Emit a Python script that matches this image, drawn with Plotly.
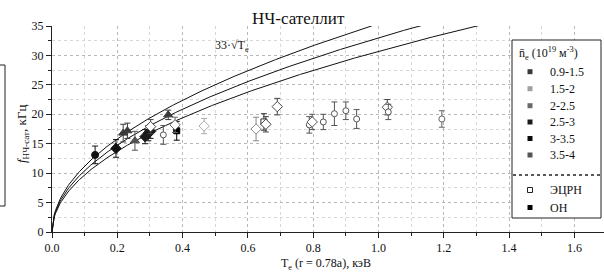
import numpy as np
import plotly.graph_objects as go

# ---- data ----
fit_coefs = [35.4, 33.0, 30.7]          # f = a * sqrt(Te)

oh_x = [0.132, 0.196, 0.218, 0.231, 0.254, 0.285, 0.295, 0.302, 0.356, 0.382]
oh_y = [13.1, 14.2, 16.8, 17.2, 15.5, 16.2, 16.8, 17.1, 19.9, 17.2]
oh_err = [1.5, 1.5, 1.5, 1.3, 1.6, 1.2, 1.3, 1.2, 0.8, 1.6]
oh_sym = ["circle", "diamond", "triangle-up", "triangle-up", "triangle-up",
          "diamond", "diamond", "diamond", "triangle-up", "square"]
oh_col = ["#111111", "#111111", "#3a3a3a", "#3a3a3a", "#505050",
          "#1a1a1a", "#1a1a1a", "#1a1a1a", "#3a3a3a", "#000000"]

ecr_x = [0.302, 0.341, 0.377, 0.466, 0.625, 0.649, 0.655, 0.690, 0.788, 0.797,
         0.831, 0.865, 0.900, 0.933, 1.027, 1.030, 1.194]
ecr_y = [17.9, 16.5, 18.2, 18.0, 17.5, 18.7, 18.3, 21.3, 18.2, 18.7,
         18.7, 20.1, 20.6, 19.2, 21.2, 20.4, 19.2]
ecr_err = [1.2, 1.6, 1.3, 1.3, 2.0, 1.4, 1.3, 1.4, 1.4, 1.3,
           1.3, 2.0, 1.5, 1.6, 1.3, 1.3, 1.4]
ecr_sym = ["diamond", "circle", "diamond", "diamond", "diamond", "square", "diamond",
           "diamond", "circle", "diamond", "circle", "circle", "circle", "circle",
           "diamond", "circle", "circle"]
ecr_col = ["#444444", "#555555", "#666666", "#aaaaaa", "#888888", "#333333", "#444444",
           "#444444", "#555555", "#555555", "#555555", "#555555", "#555555", "#555555",
           "#444444", "#555555", "#666666"]

legend_labels = ["0.9-1.5", "1.5-2", "2-2.5", "2.5-3", "3-3.5", "3.5-4"]
legend_colors = ["#3a3a3a", "#a0a0a0", "#6a6a6a", "#1a1a1a", "#0a0a0a", "#555555"]

x_ticks = [0.0, 0.2, 0.4, 0.6, 0.8, 1.0, 1.2, 1.4, 1.6]
y_ticks = [0, 5, 10, 15, 20, 25, 30, 35]

FONT = "Liberation Serif"
W, H = 604, 275
L, R, T, B = 52, 0, 26, 43
PW, PH = W - L - R, H - T - B
TXT = dict(family=FONT, size=12, color="#111111")


def px(x):
    return (x - L) / PW


def py(y):
    return (H - B - y) / PH


fig = go.Figure()

# fit curves
te = np.linspace(0, 1.4, 400)
for a in fit_coefs:
    fig.add_trace(go.Scatter(x=te, y=a * np.sqrt(te), mode="lines",
                             line=dict(color="#111111", width=1), hoverinfo="skip"))

msize = {"circle": 7, "diamond": 8, "triangle-up": 8, "square": 6}

for x, y, e, s, c in zip(oh_x, oh_y, oh_err, oh_sym, oh_col):
    fig.add_trace(go.Scatter(
        x=[x], y=[y], mode="markers",
        marker=dict(symbol=s, size=msize[s], color=c, line=dict(color=c, width=1)),
        error_y=dict(type="data", array=[e], color=c, thickness=1, width=3)))

osize = {"circle": 6, "diamond": 8, "square": 6}
for x, y, e, s, c in zip(ecr_x, ecr_y, ecr_err, ecr_sym, ecr_col):
    fig.add_trace(go.Scatter(
        x=[x], y=[y], mode="markers",
        marker=dict(symbol=s, size=osize[s], color="white", line=dict(color=c, width=1)),
        error_y=dict(type="data", array=[e], color=c, thickness=1, width=3)))

shapes = []
annotations = []

# legend box
lx0, lx1, ly0, ly1 = 512, 601, 40, 218
shapes.append(dict(type="rect", xref="paper", yref="paper", x0=px(lx0), x1=px(lx1),
                   y0=py(ly1), y1=py(ly0), fillcolor="white",
                   line=dict(color="#222222", width=1), layer="above"))
annotations.append(dict(xref="paper", yref="paper", x=px(517), y=py(53), xanchor="left",
                        yanchor="middle", showarrow=False,
                        text="n\u0304<sub>e</sub> (10<sup>19</sup> м<sup>-3</sup>)",
                        font=TXT))
ys_leg = [71.7, 88.7, 105.7, 122, 138.5, 155]
for yy, lab, col in zip(ys_leg, legend_labels, legend_colors):
    shapes.append(dict(type="rect", xref="paper", yref="paper",
                       x0=px(527.5), x1=px(532.5), y0=py(yy + 2.5), y1=py(yy - 2.5),
                       fillcolor=col, line=dict(width=0), layer="above"))
    annotations.append(dict(xref="paper", yref="paper", x=px(548), y=py(yy),
                            xanchor="left", yanchor="middle", showarrow=False, text=lab,
                            font=TXT))
shapes.append(dict(type="line", xref="paper", yref="paper", x0=px(513), x1=px(600),
                   y0=py(175), y1=py(175), line=dict(color="#222222", width=1.5, dash="dot"),
                   layer="above"))
shapes.append(dict(type="rect", xref="paper", yref="paper",
                   x0=px(527.5), x1=px(532.5), y0=py(192.5), y1=py(187.5),
                   fillcolor="white", line=dict(color="#222222", width=1), layer="above"))
annotations.append(dict(xref="paper", yref="paper", x=px(548), y=py(190), xanchor="left",
                        yanchor="middle", showarrow=False, text="ЭЦРН", font=TXT))
shapes.append(dict(type="rect", xref="paper", yref="paper",
                   x0=px(527.5), x1=px(532.5), y0=py(210), y1=py(205),
                   fillcolor="#000000", line=dict(width=0), layer="above"))
annotations.append(dict(xref="paper", yref="paper", x=px(548), y=py(207.5), xanchor="left",
                        yanchor="middle", showarrow=False, text="ОН", font=TXT))

# left bracket artefact
shapes.append(dict(type="path", xref="paper", yref="paper",
                   path=f"M {px(0)} {py(65)} L {px(5)} {py(65)} L {px(5)} {py(206)} L {px(0)} {py(206)}",
                   line=dict(color="#222222", width=1)))

# title and labels
annotations.append(dict(xref="paper", yref="paper", x=px(298), y=py(18), xanchor="center",
                        yanchor="middle", showarrow=False, text="НЧ-сателлит",
                        font=dict(family=FONT, size=17, color="#111111")))
annotations.append(dict(xref="paper", yref="paper", x=px(213), y=py(46), xanchor="left",
                        yanchor="middle", showarrow=False,
                        text="33\u00b7\u221aT<sub>e</sub>", font=TXT))
annotations.append(dict(xref="paper", yref="paper", x=px(326), y=py(264), xanchor="center",
                        yanchor="middle", showarrow=False,
                        text="T<sub>e</sub> (r = 0.78a), кэВ", font=TXT))
annotations.append(dict(xref="paper", yref="paper", x=px(22), y=py(134), xanchor="center",
                        yanchor="middle", showarrow=False, textangle=-90,
                        text="<i>f</i><sub>НЧ-сат</sub>, кГц",
                        font=dict(family=FONT, size=13, color="#111111")))

axis_common = dict(ticks="outside", ticklen=5, tickcolor="#222222", showline=True,
                   linecolor="#222222", linewidth=1, showgrid=True, gridcolor="#b8b8b8",
                   griddash="dot", gridwidth=1, zeroline=False, automargin=False,
                   tickfont=TXT)

fig.update_layout(
    width=W, height=H, margin=dict(l=L, r=R, t=T, b=B, autoexpand=False),
    paper_bgcolor="white", plot_bgcolor="white", showlegend=False,
    font=TXT, shapes=shapes, annotations=annotations,
    xaxis=dict(range=[0, PW / 326.5], tickvals=x_ticks,
               ticktext=[f"{v:.1f}" for v in x_ticks],
               minor=dict(dtick=0.1, tick0=0, ticks="outside", ticklen=3,
                          tickcolor="#222222", showgrid=True, gridcolor="#d8d8d8",
                          griddash="dot"), **axis_common),
    yaxis=dict(range=[0, 35], tickvals=y_ticks,
               minor=dict(dtick=2.5, tick0=0, ticks="outside", ticklen=3,
                          tickcolor="#222222", showgrid=True, gridcolor="#d8d8d8",
                          griddash="dot"), **axis_common),
)

fig.write_html("out.html", config={"displayModeBar": False},
               post_script="document.body.style.margin='0';document.body.style.padding='0';")
